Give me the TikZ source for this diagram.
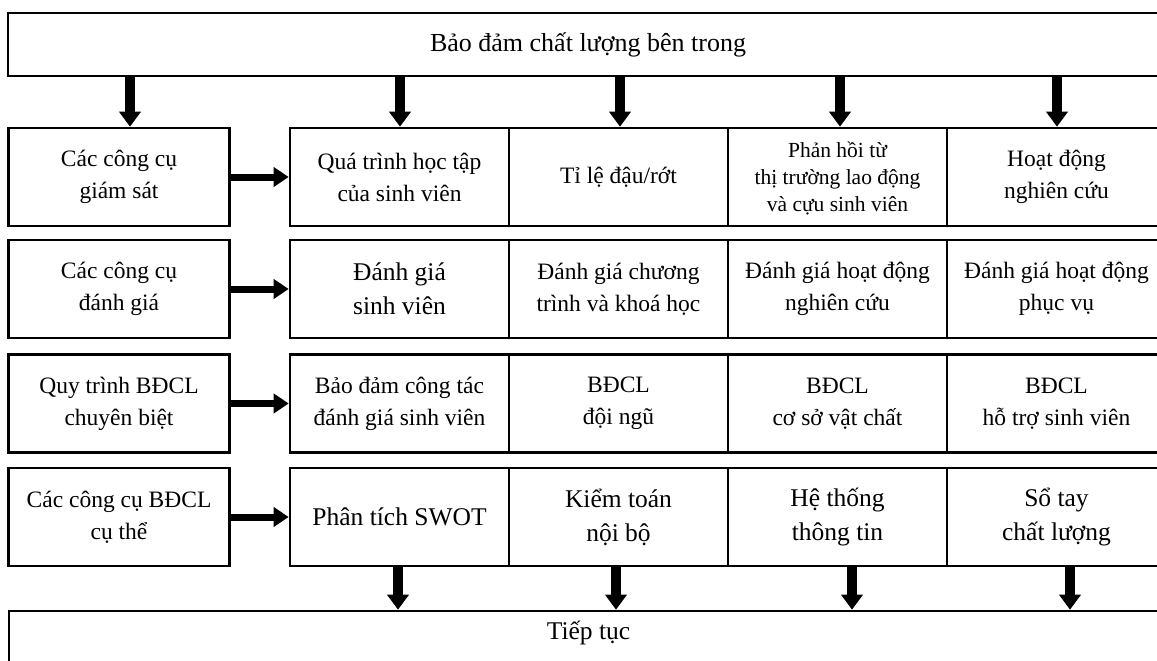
\documentclass[tikz,border=0pt]{standalone}
\usepackage{fontspec}
\setmainfont{Liberation Serif}
\usetikzlibrary{arrows.meta}

\begin{document}
\begin{tikzpicture}[x=1pt,y=-1pt,
		box/.style={draw,line width=2.6pt,inner sep=0pt,align=center,minimum height=98pt},
		lbox/.style={box,minimum width=221pt},
		cell/.style={box,minimum width=219pt},
		txt/.style={font=\fontsize{23.5}{32}\selectfont},
		smalltxt/.style={font=\fontsize{21.5}{27}\selectfont},
		bigtxt/.style={font=\fontsize{25.5}{34}\selectfont},
		downarrow/.style={line width=10pt,-{Triangle[length=15pt,width=21pt]}},
		rightarrow/.style={line width=7pt,-{Triangle[length=15pt,width=19pt]}}]
		\useasboundingbox (0,0) rectangle (1157,661);
		\clip (0,0) rectangle (1157,661);
		% top and bottom bands
		\node[draw,line width=2.6pt,minimum width=1160pt,minimum height=63pt,font=\fontsize{26}{30}\selectfont] (inner) at (588,44.5) {Bảo đảm chất lượng bên trong};
		\node[draw,line width=2.6pt,minimum width=1159pt,minimum height=80pt] (bottom) at (588.5,651) {};
		\node[font=\fontsize{25.5}{30}\selectfont] (cont) at ([yshift=-23pt]bottom.north) {Tiếp tục};
		% row 1
		\node[lbox,txt] (m1) at (119,177) {Các công cụ\\giám sát};
		\node[cell,txt] (c11) at (399.5,177) {Quá trình học tập\\của sinh viên};
		\node[cell,txt] (c12) at (618.5,177) {Tỉ lệ đậu/rớt};
		\node[cell,smalltxt,text depth=0pt] (c13) at (837.5,177) {Phản hồi từ\\thị trường lao động\\và cựu sinh viên};
		\node[cell,txt] (c14) at (1056.5,177) {Hoạt động\\nghiên cứu};
		% row 2
		\node[lbox,txt] (m2) at (119,289) {Các công cụ\\đánh giá};
		\node[cell,bigtxt] (c21) at (399.5,289) {Đánh giá\\sinh viên};
		\node[cell,txt] (c22) at (618.5,289) {Đánh giá chương\\trình và khoá học};
		\node[cell,txt] (c23) at (837.5,289) {Đánh giá hoạt động\\nghiên cứu};
		\node[cell,txt] (c24) at (1056.5,289) {Đánh giá hoạt động\\phục vụ};
		% row 3
		\node[lbox,txt] (m3) at (119,403.5) {Quy trình BĐCL\\chuyên biệt};
		\node[cell,txt] (c31) at (399.5,403.5) {Bảo đảm công tác\\đánh giá sinh viên};
		\node[cell,txt] (c32) at (618.5,403.5) {BĐCL\\đội ngũ};
		\node[cell,txt] (c33) at (837.5,403.5) {BĐCL\\cơ sở vật chất};
		\node[cell,txt] (c34) at (1056.5,403.5) {BĐCL\\hỗ trợ sinh viên};
		% row 4
		\node[lbox,txt] (m4) at (119,517) {Các công cụ BĐCL\\cụ thể};
		\node[cell,bigtxt] (c41) at (399.5,517) {Phân tích SWOT};
		\node[cell,bigtxt] (c42) at (618.5,517) {Kiểm toán\\nội bộ};
		\node[cell,bigtxt] (c43) at (837.5,517) {Hệ thống\\thông tin};
		\node[cell,bigtxt] (c44) at (1056.5,517) {Sổ tay\\chất lượng};
		% arrows
		\foreach \n/\x in {m1/130,c11/400,c12/620,c13/840,c14/1057}{
			\coordinate (p) at (\x,0);
			\draw[downarrow] (inner.south -| p) -- (\n.north -| p);
		}
		\foreach \i in {1,...,4}{
			\draw[rightarrow] (m\i.east) -- (c\i1.west);
		}
		\foreach \n/\x in {c41/398,c42/616,c43/852,c44/1070}{
			\coordinate (q) at (\x,0);
			\draw[downarrow] (\n.south -| q) -- (bottom.north -| q);
		}
	\end{tikzpicture}
\end{document}
